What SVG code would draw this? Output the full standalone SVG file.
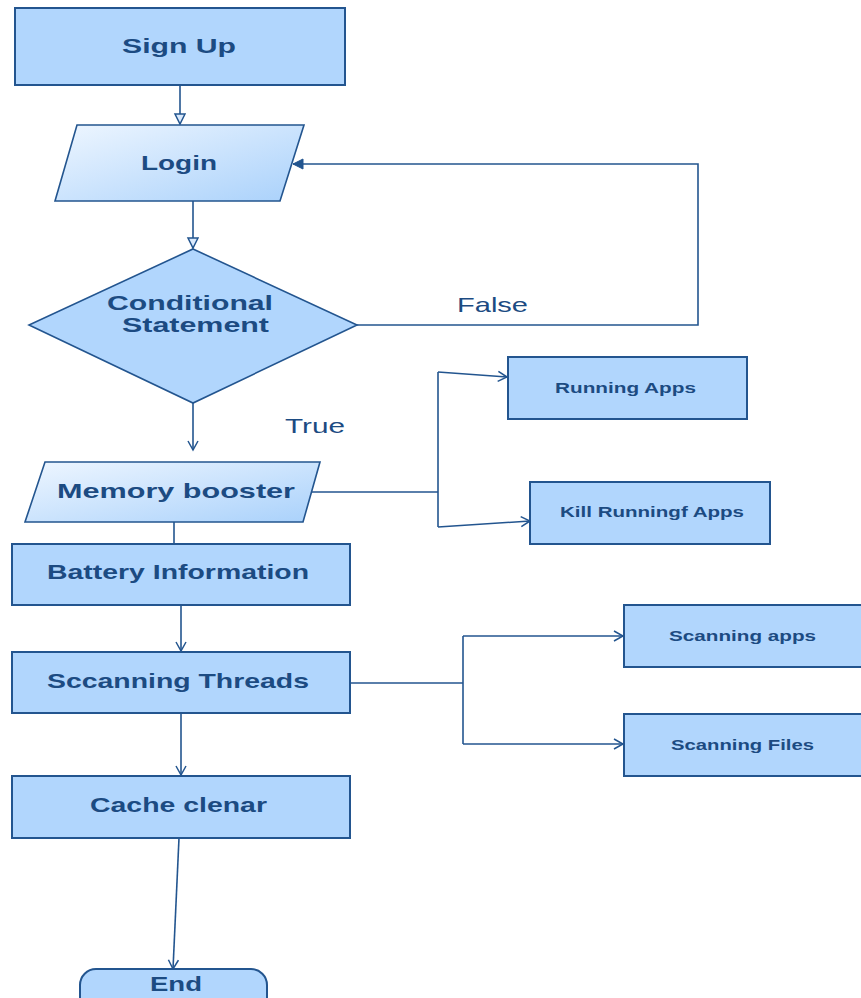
<svg xmlns="http://www.w3.org/2000/svg" width="861" height="998" viewBox="0 0 861 998">
<style>
.box{fill:#b1d6fd;stroke:#23558f;stroke-width:2}
.para{fill:url(#pg);stroke:#23558f;stroke-width:1.6}
.t{font-family:"Liberation Sans",Arial,sans-serif;font-weight:bold;fill:#1c4b82;font-size:21px}
.s{font-family:"Liberation Sans",Arial,sans-serif;font-weight:bold;fill:#1c4b82;font-size:15px}
.lbl{font-family:"Liberation Sans",Arial,sans-serif;fill:#1c4b82;font-size:21px}
.c{fill:none;stroke:#23558f;stroke-width:1.6}
</style>
<defs>
<linearGradient id="pg" x1="0" y1="0" x2="1" y2="1">
<stop offset="0" stop-color="#eef6ff"/>
<stop offset="1" stop-color="#a9d1fb"/>
</linearGradient>
<marker id="v" markerWidth="12" markerHeight="12" refX="10" refY="6" orient="auto" markerUnits="userSpaceOnUse">
<path d="M1,1 L10,6 L1,11" fill="none" stroke="#23558f" stroke-width="1.5"/>
</marker>
<marker id="tri" markerWidth="14" markerHeight="14" refX="11" refY="6" orient="auto" markerUnits="userSpaceOnUse">
<path d="M1,1 L11,6 L1,11 Z" fill="#dbeafc" stroke="#23558f" stroke-width="1.5"/>
</marker>
<marker id="fill" markerWidth="14" markerHeight="14" refX="11" refY="6" orient="auto" markerUnits="userSpaceOnUse">
<path d="M1,1 L11,6 L1,11 Z" fill="#23558f" stroke="#23558f" stroke-width="1"/>
</marker>
</defs>

<g id="connectors">
<line class="c" x1="180" y1="86" x2="180" y2="124" marker-end="url(#tri)"/>
<line class="c" x1="193" y1="201" x2="193" y2="248" marker-end="url(#tri)"/>
<polyline class="c" points="357,325 698,325 698,164 293,164" marker-end="url(#fill)"/>
<line class="c" x1="193" y1="403" x2="193" y2="450" marker-end="url(#v)"/>
<line class="c" x1="174" y1="522" x2="174" y2="544"/>
<line class="c" x1="312" y1="492" x2="438" y2="492"/>
<line class="c" x1="438" y1="372" x2="438" y2="527"/>
<line class="c" x1="438" y1="372" x2="507" y2="377" marker-end="url(#v)"/>
<line class="c" x1="438" y1="527" x2="530" y2="521" marker-end="url(#v)"/>
<line class="c" x1="181" y1="605" x2="181" y2="651" marker-end="url(#v)"/>
<line class="c" x1="181" y1="714" x2="181" y2="775" marker-end="url(#v)"/>
<line class="c" x1="350" y1="683" x2="463" y2="683"/>
<line class="c" x1="463" y1="636" x2="463" y2="744"/>
<line class="c" x1="463" y1="636" x2="623" y2="636" marker-end="url(#v)"/>
<line class="c" x1="463" y1="744" x2="623" y2="744" marker-end="url(#v)"/>
<line class="c" x1="179" y1="838" x2="173" y2="969" marker-end="url(#v)"/>
<text class="lbl" x="457" y="312" textLength="71" lengthAdjust="spacingAndGlyphs">False</text>
<text class="lbl" x="285" y="433" textLength="60" lengthAdjust="spacingAndGlyphs">True</text>
</g>

<g id="signup">
<rect class="box" x="15" y="8" width="330" height="77"/>
<text class="t" x="122" y="53" textLength="114" lengthAdjust="spacingAndGlyphs">Sign Up</text>
</g>

<g id="login">
<polygon class="para" points="77,125 304,125 280,201 55,201"/>
<text class="t" x="141" y="170" textLength="76" lengthAdjust="spacingAndGlyphs">Login</text>
</g>

<g id="condition">
<polygon class="box" style="stroke-width:1.6" points="193,249 357,325 193,403 29,325"/>
<text class="t" x="107" y="310" textLength="166" lengthAdjust="spacingAndGlyphs">Conditional</text>
<text class="t" x="122" y="332" textLength="147" lengthAdjust="spacingAndGlyphs">Statement</text>
</g>

<g id="memory">
<polygon class="para" points="45,462 320,462 303,522 25,522"/>
<text class="t" x="57" y="498" textLength="238" lengthAdjust="spacingAndGlyphs">Memory booster</text>
</g>

<g id="running">
<rect class="box" x="508" y="357" width="239" height="62"/>
<text class="s" x="555" y="393" textLength="141" lengthAdjust="spacingAndGlyphs">Running Apps</text>
</g>

<g id="kill">
<rect class="box" x="530" y="482" width="240" height="62"/>
<text class="s" x="560" y="517" textLength="184" lengthAdjust="spacingAndGlyphs">Kill Runningf Apps</text>
</g>

<g id="battery">
<rect class="box" x="12" y="544" width="338" height="61"/>
<text class="t" x="47" y="579" textLength="262" lengthAdjust="spacingAndGlyphs">Battery Information</text>
</g>

<g id="threads">
<rect class="box" x="12" y="652" width="338" height="61"/>
<text class="t" x="47" y="688" textLength="262" lengthAdjust="spacingAndGlyphs">Sccanning Threads</text>
</g>

<g id="scanapps">
<rect class="box" x="624" y="605" width="250" height="62"/>
<text class="s" x="669" y="641" textLength="147" lengthAdjust="spacingAndGlyphs">Scanning apps</text>
</g>

<g id="scanfiles">
<rect class="box" x="624" y="714" width="250" height="62"/>
<text class="s" x="671" y="750" textLength="143" lengthAdjust="spacingAndGlyphs">Scanning Files</text>
</g>

<g id="cache">
<rect class="box" x="12" y="776" width="338" height="62"/>
<text class="t" x="90" y="812" textLength="177" lengthAdjust="spacingAndGlyphs">Cache clenar</text>
</g>

<g id="end">
<rect class="box" x="80" y="969" width="187" height="44" rx="16" ry="16"/>
<text class="t" x="150" y="991" textLength="52" lengthAdjust="spacingAndGlyphs">End</text>
</g>
</svg>
